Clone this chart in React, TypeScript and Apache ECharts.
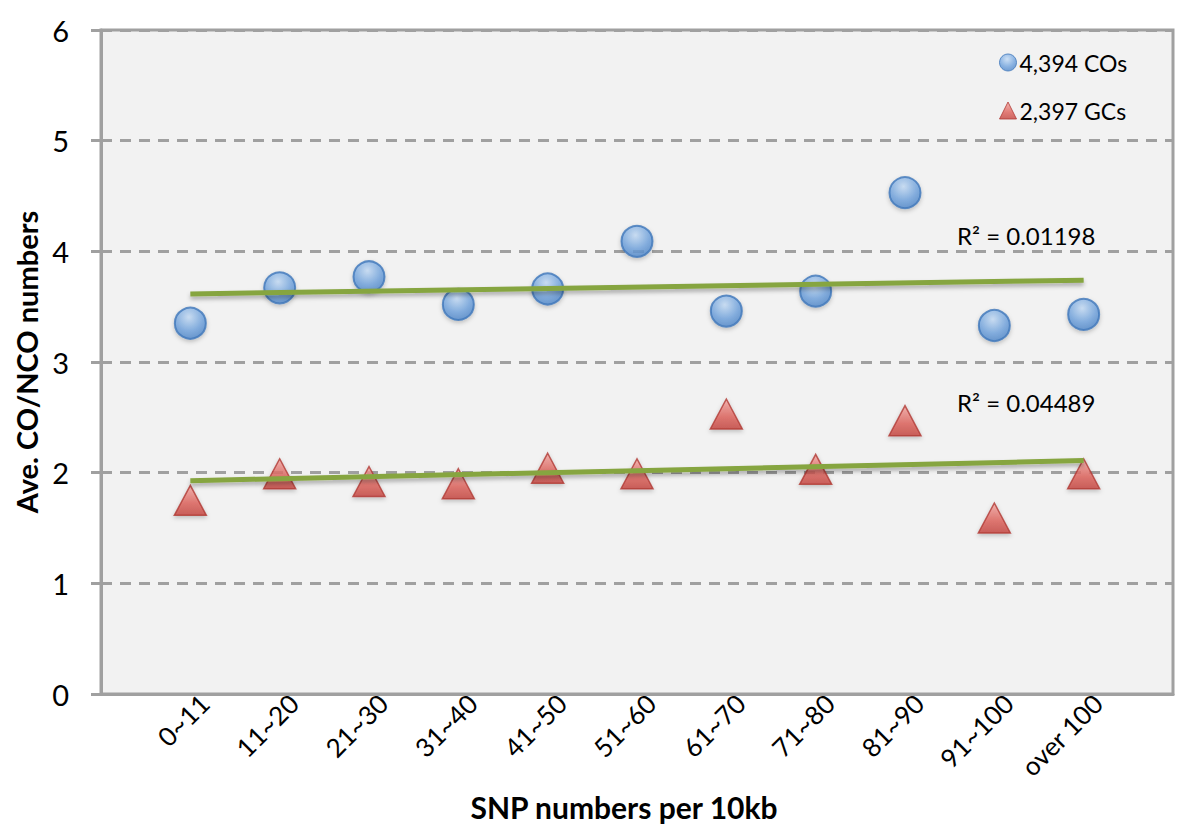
import React, { useEffect, useRef } from "react";
import * as echarts from "echarts";

const categories = ["0~11", "11~20", "21~30", "31~40", "41~50", "51~60", "61~70", "71~80", "81~90", "91~100", "over 100"];
const coValues = [3.35, 3.67, 3.77, 3.52, 3.66, 4.09, 3.46, 3.64, 4.53, 3.33, 3.43];
const gcValues = [1.75, 1.99, 1.92, 1.9, 2.04, 1.99, 2.53, 2.03, 2.47, 1.59, 1.99];
const seriesNames = ["4,394 COs", "2,397 GCs"];
const r2Labels = ["R\u00B2 = 0.01198", "R\u00B2 = 0.04489"];
const yTicks = [0, 1, 2, 3, 4, 5, 6];

const FONT = "Lato, 'Liberation Sans', sans-serif";

function trend(vals: number[]): number[][] {
  const n = vals.length;
  const xs = vals.map((_, i) => i + 1);
  const mx = xs.reduce((a, b) => a + b, 0) / n;
  const my = vals.reduce((a, b) => a + b, 0) / n;
  let sxy = 0, sxx = 0;
  for (let i = 0; i < n; i++) {
    sxy += (xs[i] - mx) * (vals[i] - my);
    sxx += (xs[i] - mx) * (xs[i] - mx);
  }
  const b = sxy / sxx;
  const a = my - b * mx;
  return [[1, a + b * 1], [n, a + b * n]];
}

export default function App() {
  const ref = useRef<HTMLDivElement>(null);
  useEffect(() => {
    if (!ref.current) return;
    const chart = echarts.init(ref.current, null, { renderer: "svg" });
    const blueGrad = new echarts.graphic.RadialGradient(0.45, 0.3, 0.75, [
      { offset: 0, color: "#C4DCF6" },
      { offset: 0.6, color: "#6FA2DD" },
      { offset: 1, color: "#4A82C6" },
    ]);
    const redGrad = new echarts.graphic.LinearGradient(0, 0, 0, 1, [
      { offset: 0, color: "#F4A7A2" },
      { offset: 0.6, color: "#DD5F58" },
      { offset: 1, color: "#C4433D" },
    ]);
    const trendStyle = {
      color: "#86A540",
      width: 5,
      shadowColor: "rgba(0,0,0,0.3)",
      shadowBlur: 4,
      shadowOffsetY: 3,
    };
    chart.setOption({
      animation: false,
      textStyle: { fontFamily: FONT },
      grid: {
        left: 93,
        top: 22,
        right: 19,
        bottom: 138,
        containLabel: false,
        outerBoundsMode: "none",
        show: true,
        backgroundColor: "#F2F2F2",
        borderColor: "#A0A0A0",
        borderWidth: 3,
      },
      legend: {
        orient: "vertical",
        left: 986,
        top: 38,
        itemWidth: 17,
        itemHeight: 17,
        itemGap: 25,
        textStyle: { fontSize: 23, color: "#000", fontFamily: FONT, padding: [0, 0, 0, -2] },
        data: [
          { name: seriesNames[0], icon: "circle", itemStyle: { color: blueGrad, borderColor: "#3F77BA", borderWidth: 1 } },
          { name: seriesNames[1], icon: "triangle", itemStyle: { color: redGrad, borderColor: "#B03A35", borderWidth: 1 } },
        ],
      },
      xAxis: {
        type: "value",
        min: 0,
        max: 12,
        interval: 1,
        name: "SNP numbers per 10kb",
        nameLocation: "middle",
        nameGap: 98,
        nameTextStyle: { fontSize: 30, fontWeight: "bold", color: "#000", fontFamily: FONT, padding: [0, 26, 0, 0] },
        axisLine: { show: true, lineStyle: { color: "#A0A0A0", width: 3 } },
        axisTick: { show: false },
        splitLine: { show: false },
        axisLabel: {
          rotate: 45,
          fontSize: 26,
          color: "#000",
          margin: 19,
          padding: [0, -20, 0, 0],
          fontFamily: FONT,
          showMinLabel: true,
          showMaxLabel: true,
          formatter: (v: number) => categories[v - 1] ?? "",
        },
      },
      yAxis: {
        type: "value",
        min: yTicks[0],
        max: yTicks[yTicks.length - 1],
        interval: 1,
        name: "Ave. CO/NCO numbers",
        nameLocation: "middle",
        nameGap: 56,
        nameTextStyle: { fontSize: 29, fontWeight: "bold", color: "#000", fontFamily: FONT },
        axisLine: { show: true, lineStyle: { color: "#A0A0A0", width: 3 } },
        axisTick: { show: true, length: 10, lineStyle: { color: "#A0A0A0", width: 3 } },
        axisLabel: { fontSize: 29, color: "#000", margin: 32, fontFamily: FONT },
        splitLine: { show: true, lineStyle: { color: "#A0A0A0", width: 3, type: [11, 8] } },
      },
      graphic: [
        { type: "text", x: 949, y: 227, style: { text: r2Labels[0], fontSize: 24, fill: "#000", fontFamily: FONT, verticalAlign: "middle" } },
        { type: "text", x: 949, y: 394, style: { text: r2Labels[1], fontSize: 24, fill: "#000", fontFamily: FONT, verticalAlign: "middle" } },
      ],
      series: [
        {
          name: seriesNames[0],
          type: "scatter",
          symbol: "circle",
          symbolSize: 31,
          data: coValues.map((v, i) => [i + 1, v]),
          itemStyle: {
            color: blueGrad,
            borderColor: "#3F77BA",
            borderWidth: 2,
            shadowColor: "rgba(0,0,0,0.25)",
            shadowBlur: 4,
            shadowOffsetY: 2,
          },
          z: 2,
        },
        {
          name: seriesNames[1],
          type: "scatter",
          symbol: "triangle",
          symbolSize: [32, 30],
          data: gcValues.map((v, i) => [i + 1, v]),
          itemStyle: {
            color: redGrad,
            borderColor: "#B03A35",
            borderWidth: 1.5,
            shadowColor: "rgba(0,0,0,0.25)",
            shadowBlur: 4,
            shadowOffsetY: 2,
          },
          z: 2,
        },
        {
          name: "trendCO",
          type: "line",
          data: trend(coValues),
          symbol: "none",
          lineStyle: trendStyle,
          z: 3,
          silent: true,
        },
        {
          name: "trendGC",
          type: "line",
          data: trend(gcValues),
          symbol: "none",
          lineStyle: trendStyle,
          z: 3,
          silent: true,
        },
      ],
    });
    return () => chart.dispose();
  }, []);
  return <div ref={ref} style={{ width: 1184, height: 824 }} />;
}
